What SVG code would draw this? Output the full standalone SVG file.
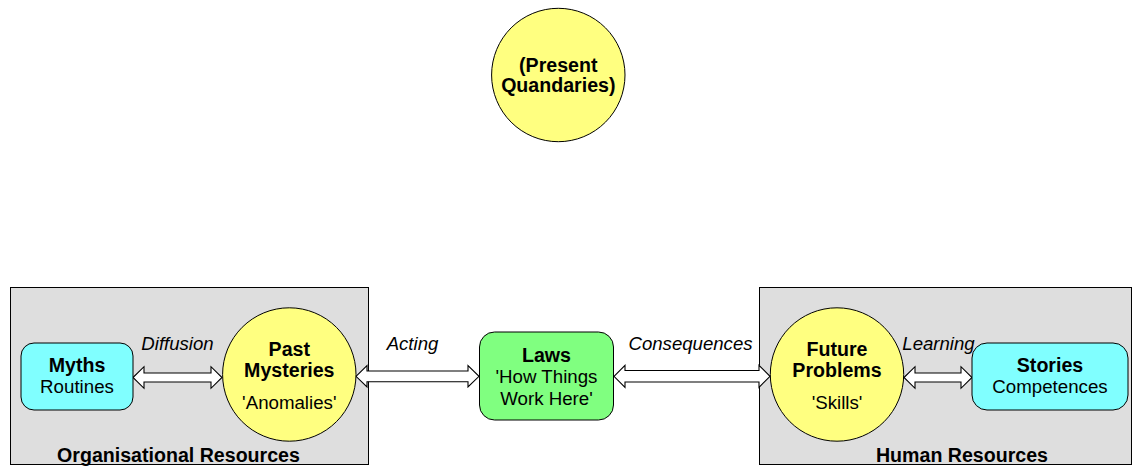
<svg xmlns="http://www.w3.org/2000/svg" width="1133" height="466" viewBox="0 0 1133 466">
<style>
text { font-family: "Liberation Sans", Arial, sans-serif; font-size: 18.7px; fill: #000; text-anchor: middle; }
.b { font-weight: bold; font-size: 19.6px; }
.i { font-style: italic; font-size: 18.6px; }
.group { fill: #dedede; stroke: #000; stroke-width: 1; }
.circ { fill: #ffff80; stroke: #000; stroke-width: 1; }
.cyan { fill: #80ffff; stroke: #000; stroke-width: 1; }
.green { fill: #80ff80; stroke: #000; stroke-width: 1; }
.arrow { fill: #fff; stroke: #000; stroke-width: 1.1; stroke-linejoin: miter; }
</style>
<rect width="1133" height="466" fill="#fff"/>
<g id="organisational-resources">
  <rect class="group" x="10.5" y="287.5" width="358" height="177"/>
  <text class="b" x="178.5" y="462">Organisational Resources</text>
</g>
<g id="human-resources">
  <rect class="group" x="759.5" y="287.5" width="372" height="177"/>
  <text class="b" x="962" y="462">Human Resources</text>
</g>
<g id="connectors">
  <path class="arrow" d="M133,377.5 L144,366.7 L144,373 L211,373 L211,366.7 L222,377.5 L211,388.3 L211,382 L144,382 L144,388.3 Z"/>
  <path class="arrow" d="M356,376.3 L367,365.5 L367,371 L468,371 L468,365.5 L479,376.3 L468,387 L468,381.7 L367,381.7 L367,387 Z"/>
  <path class="arrow" d="M614,376.3 L625,365.3 L625,370.5 L759,370.5 L759,365.3 L770,376.3 L759,387.3 L759,382 L625,382 L625,387.3 Z"/>
  <path class="arrow" d="M904,377.5 L915,366.7 L915,373 L961,373 L961,366.7 L972,377.5 L961,388.3 L961,382 L915,382 L915,388.3 Z"/>
  <text class="i" x="177.5" y="350">Diffusion</text>
  <text class="i" x="412.5" y="350">Acting</text>
  <text class="i" x="690.5" y="350">Consequences</text>
  <text class="i" x="938.5" y="350">Learning</text>
</g>
<g id="present-quandaries">
  <circle class="circ" cx="558.3" cy="75" r="66.7"/>
  <text class="b" x="558.3" y="71.7">(Present</text>
  <text class="b" x="558.3" y="92">Quandaries)</text>
</g>
<g id="myths">
  <rect class="cyan" x="21" y="343" width="112" height="67" rx="13"/>
  <text class="b" x="77" y="371.7">Myths</text>
  <text x="77" y="393">Routines</text>
</g>
<g id="past-mysteries">
  <circle class="circ" cx="289.3" cy="374.5" r="66.7"/>
  <text class="b" x="289.3" y="356">Past</text>
  <text class="b" x="289.3" y="376.7">Mysteries</text>
  <text x="289.3" y="409">'Anomalies'</text>
</g>
<g id="laws">
  <rect class="green" x="479.5" y="332" width="134" height="88" rx="15"/>
  <text class="b" x="546.5" y="361.7">Laws</text>
  <text x="546.5" y="383.3">'How Things</text>
  <text x="546.5" y="405">Work Here'</text>
</g>
<g id="future-problems">
  <circle class="circ" cx="837" cy="374.5" r="66.7"/>
  <text class="b" x="837" y="356">Future</text>
  <text class="b" x="837" y="376.7">Problems</text>
  <text x="837" y="409">'Skills'</text>
</g>
<g id="stories">
  <rect class="cyan" x="972" y="343" width="156" height="67" rx="15"/>
  <text class="b" x="1050" y="371.7">Stories</text>
  <text x="1050" y="393">Competences</text>
</g>
</svg>
